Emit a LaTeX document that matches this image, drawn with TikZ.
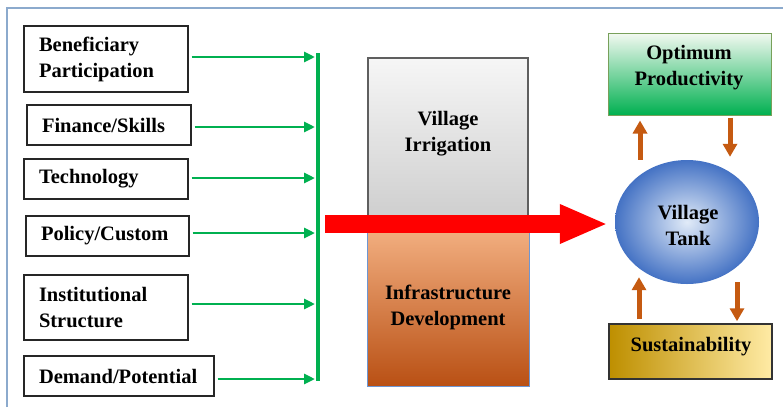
\documentclass[tikz,border=0pt]{standalone}
\usepackage{fontspec}
\setmainfont{Liberation Serif}
\usetikzlibrary{arrows.meta,shapes.geometric}
\definecolor{framec}{RGB}{140,170,205}
\definecolor{gr}{RGB}{0,176,80}
\definecolor{org}{RGB}{197,90,17}
\definecolor{gtop}{RGB}{246,246,246}
\definecolor{gbot}{RGB}{205,205,205}
\definecolor{gbord}{RGB}{95,95,95}
\definecolor{otop}{RGB}{244,178,132}
\definecolor{omid}{RGB}{236,128,55}
\definecolor{obot}{RGB}{185,80,20}
\definecolor{obord}{RGB}{110,150,210}
\definecolor{ptop}{RGB}{243,249,241}
\definecolor{pbot}{RGB}{0,176,80}
\definecolor{pbord}{RGB}{120,160,90}
\definecolor{tin}{RGB}{225,235,248}
\definecolor{tout}{RGB}{68,114,196}
\definecolor{sleft}{RGB}{190,143,0}
\definecolor{smid}{RGB}{240,205,110}
\definecolor{sright}{RGB}{255,235,165}
\begin{document}
\begin{tikzpicture}[x=1pt,y=-1pt,
  every node/.style={font=\bfseries\fontsize{20.5}{26}\selectfont},
  lbox/.style={draw=black!85, line width=1.2pt, inner xsep=15pt, inner ysep=0pt, align=left},
  garrow/.style={gr, line width=2.8pt, -{Triangle[length=11pt,width=10pt]}, shorten >=3pt},
  oarrow/.style={org, line width=5pt, -{Triangle[length=13pt,width=14pt]}},
  txt/.style={align=center, inner sep=0pt}]
\useasboundingbox (0,0) rectangle (783,407);
\draw[framec, line width=1.2pt] (7,407) -- (7,8) -- (783,8);

% left boxes
\node[lbox, text width=134pt, minimum height=66pt] (b1) at (106,59) {Beneficiary\\Participation};
\node[lbox, text width=134pt, minimum height=40pt] (b2) at (109,125) {Finance/Skills};
\node[lbox, text width=134pt, minimum height=40pt] (b3) at (106,179) {Technology};
\node[lbox, text width=133pt, minimum height=40pt] (b4) at (107.5,236) {Policy/Custom};
\node[lbox, text width=134pt, minimum height=65pt] (b5) at (106,307.5) {Institutional\\Structure};
\node[lbox, text width=160pt, minimum height=40pt] (b6) at (119,376) {Demand/Potential};

% green bar
\coordinate (bt) at (318,53);
\coordinate (bb) at (318,381);
\draw[gr, line width=3.5pt] (bt) -- (bb);
\foreach \b/\dy in {b1/2,b2/-2,b3/1,b4/3,b5/3.5,b6/-3}{
  \draw[garrow] ([xshift=3pt,yshift=\dy pt]\b.east) -- ([yshift=\dy pt]\b.east -| bt);
}

% middle boxes
\node[draw=gbord, line width=1.2pt, top color=gtop, bottom color=gbot,
  minimum width=160pt, minimum height=166pt, inner sep=0pt] (vib) at (448,141) {};
\node[draw=obord, line width=0.8pt, top color=otop, middle color=omid, bottom color=obot,
  minimum width=162pt, minimum height=162pt, inner sep=0pt] (idb) at (448,305) {};
\node[txt] (vit) at (448,134) {Village\\Irrigation};
\node[txt] (idt) at (448,307) {Infrastructure\\Development};

% right side
\node[draw=pbord, line width=1pt, top color=ptop, bottom color=pbot,
  minimum width=163pt, minimum height=82pt, inner sep=0pt] (opt) at (689.5,74) {};
\node[txt] (optt) at (689,68) {Optimum\\Productivity};
\node[ellipse, minimum width=144pt, minimum height=124pt, inner color=tin, outer color=tout,
  inner sep=0pt] (tank) at (687,222) {};
\node[txt] (tankt) at (688,225) {Village\\Tank};
\node[draw=black!80, line width=1.5pt, left color=sleft, middle color=smid, right color=sright,
  minimum width=163pt, minimum height=55pt, inner sep=0pt] (sust) at (690.5,351.5) {};
\node[txt] (sustt) at (691,347) {Sustainability};

% red arrow
\coordinate (rs) at (325,224);
\draw[red, line width=18pt, -{Triangle[length=48pt,width=36pt]}] (rs) -- ([xshift=-7pt]rs -| tank.west);

% orange arrows
\draw[oarrow] ([xshift=-47pt]tank.north) -- ([xshift=-49.5pt,yshift=-5pt]opt.south);
\draw[oarrow] ([xshift=40.5pt,yshift=-2pt]opt.south) -- ([xshift=43pt,yshift=3pt]tank.north);
\draw[oarrow] ([xshift=-51.5pt,yshift=4pt]sust.north) -- ([xshift=-48pt,yshift=7pt]tank.south);
\draw[oarrow] ([xshift=50pt,yshift=2pt]tank.south) -- ([xshift=46.5pt,yshift=2pt]sust.north);
\end{tikzpicture}
\end{document}
